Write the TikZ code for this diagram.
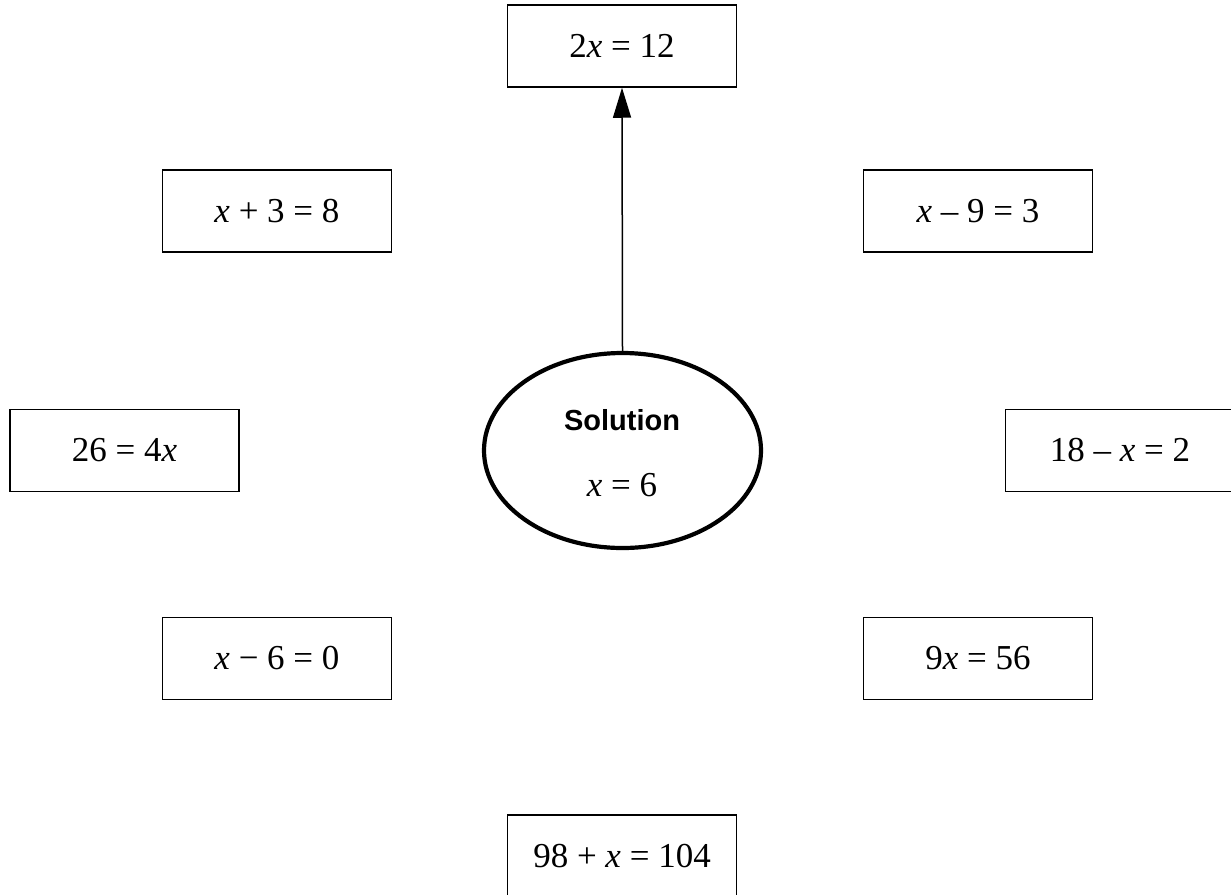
\documentclass[tikz,border=0pt]{standalone}
\usepackage{fontspec}
\setmainfont{Liberation Serif}
\setsansfont{Liberation Sans}
\usetikzlibrary{shapes.geometric,arrows.meta}
\begin{document}
\begin{tikzpicture}[x=0.5pt,y=-0.5pt,
  eqbox/.style={draw,line width=0.75pt,minimum width=114.5pt,minimum height=41pt,inner sep=0pt,font=\fontsize{17.5}{21}\selectfont},
  solell/.style={draw,ellipse,line width=2.1pt,minimum width=138.5pt,minimum height=97.5pt,inner sep=0pt},
  soltitle/.style={inner sep=0pt,font=\fontsize{14.5}{17}\selectfont\sffamily\bfseries},
  solvalue/.style={inner sep=0pt,font=\fontsize{17.5}{21}\selectfont},
  arr/.style={line width=0.75pt,-{Triangle[length=15pt,width=9pt]}}]
\clip (0,0) rectangle (1231,894);
\node[eqbox] (top) at (622,46) {2\textit{x} = 12};
\node[eqbox] (ul) at (277,211) {\textit{x} + 3 = 8};
\node[eqbox] (ur) at (978,211) {\textit{x} – 9 = 3};
\node[eqbox] (ml) at (124.5,450.5) {26 = 4\textit{x}};
\node[eqbox] (mr) at (1120,450.5) {18 – \textit{x} = 2};
\node[eqbox] (ll) at (277,658.5) {\textit{x} − 6 = 0};
\node[eqbox] (lr) at (978,658.5) {9\textit{x} = 56};
\node[eqbox] (bot) at (622,856) {98 + \textit{x} = 104};
\node[solell] (sol) at (622.5,450.5) {};
\node[soltitle] (solt) at (622,420) {Solution};
\node[solvalue] (solv) at (622,485) {\textit{x} = 6};
\draw[arr] (sol.north) -- (top.south);
\end{tikzpicture}
\end{document}
